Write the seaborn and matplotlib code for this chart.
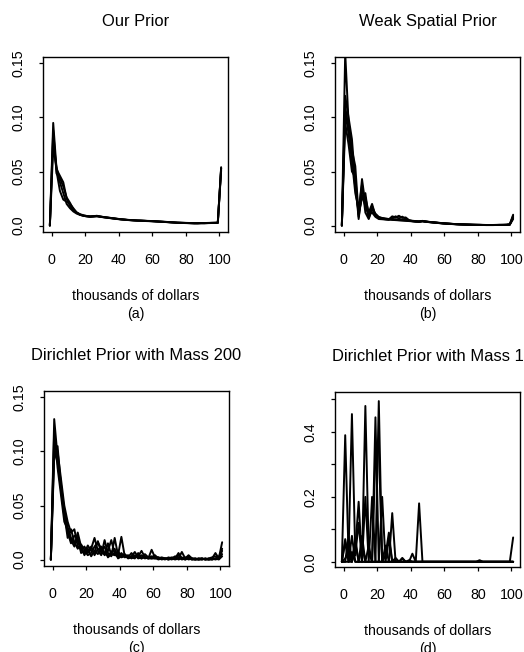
import matplotlib
matplotlib.use("Agg")
import matplotlib.pyplot as plt
import pandas as pd
import seaborn as sns

# bin midpoints, thousands of dollars (with end points at -1 and 101)
BINS: list[int] = list(range(-1, 102, 2))

# (a) Our Prior
A1 = [0, .095, .052, .046, .040, .025, .018, .014, .012, .010,
      .009, .0085, .0082, .0085, .0088, .0082, .0078, .0074, .0070, .0066,
      .0062, .0058, .0055, .0052, .0050, .0048, .0046, .0045, .0044, .0042,
      .0041, .0040, .0038, .0036, .0034, .0032, .0030, .0028, .0026, .0025,
      .0024, .0023, .0022, .0021, .0021, .0022, .0022, .0023, .0024, .0024,
      .0025, .053]
A2 = [0, .082, .050, .032, .024, .022, .020, .016, .012, .010,
      .0092, .0088, .0085, .0087, .0090, .0084, .0079, .0075, .0071, .0067,
      .0063, .0059, .0056, .0053, .0051, .0049, .0047, .0046, .0045, .0043,
      .0042, .0041, .0039, .0037, .0035, .0033, .0031, .0029, .0027, .0026,
      .0025, .0024, .0023, .0022, .0022, .0023, .0023, .0024, .0025, .0026,
      .0027, .053]
A3 = [0, .072, .054, .040, .030, .020, .016, .013, .011, .0098,
      .0090, .0084, .0080, .0082, .0084, .0080, .0076, .0072, .0068, .0064,
      .0060, .0057, .0054, .0051, .0049, .0047, .0045, .0044, .0042, .0041,
      .0040, .0038, .0036, .0034, .0033, .0031, .0029, .0027, .0025, .0024,
      .0023, .0022, .0021, .0020, .0020, .0021, .0021, .0022, .0023, .0023,
      .0024, .051]
A4 = [0, .088, .048, .044, .036, .026, .021, .015, .012, .0105,
      .0095, .0088, .0084, .0086, .0089, .0083, .0077, .0073, .0069, .0065,
      .0061, .0058, .0055, .0052, .0050, .0048, .0046, .0045, .0043, .0042,
      .0041, .0039, .0037, .0035, .0033, .0032, .0030, .0028, .0026, .0025,
      .0024, .0023, .0022, .0021, .0021, .0022, .0022, .0023, .0024, .0025,
      .0026, .054]

# (b) Weak Spatial Prior
B1 = [0, .160, .095, .070, .055, .010, .043, .020, .008, .018,
      .010, .007, .0065, .006, .0058, .0085, .0075, .009, .007, .0075,
      .005, .0042, .0038, .0036, .0042, .0038, .0033, .0030, .0027, .0024,
      .0021, .0019, .0017, .0015, .0013, .0011, .0010, .0009, .0008, .0007,
      .0006, .0006, .0005, .0005, .0005, .0005, .0005, .0006, .0006, .0007,
      .0010, .009]
B2 = [0, .120, .100, .080, .040, .006, .032, .026, .012, .020,
      .009, .0075, .007, .0062, .006, .0055, .0052, .005, .0048, .0045,
      .0043, .0040, .0038, .0037, .0040, .0036, .0032, .0029, .0026, .0023,
      .0020, .0018, .0016, .0014, .0012, .0011, .0010, .0009, .0008, .0007,
      .0006, .0006, .0005, .0005, .0005, .0005, .0005, .0005, .0006, .0006,
      .0009, .007]
B3 = [0, .105, .085, .060, .030, .015, .038, .012, .006, .015,
      .011, .008, .0068, .0065, .006, .006, .0058, .0056, .0054, .0050,
      .0047, .0044, .0041, .0039, .0043, .0037, .0034, .0031, .0028, .0025,
      .0022, .0019, .0017, .0015, .0013, .0012, .0010, .0009, .0008, .0007,
      .0007, .0006, .0006, .0005, .0005, .0005, .0006, .0006, .0006, .0007,
      .0011, .010]
B4 = [0, .095, .075, .050, .045, .008, .028, .018, .010, .012,
      .008, .006, .0058, .0055, .0052, .0068, .0085, .0065, .0082, .006,
      .0045, .0040, .0036, .0034, .0038, .0034, .0031, .0028, .0025, .0022,
      .0019, .0017, .0015, .0013, .0012, .0010, .0009, .0008, .0007, .0006,
      .0006, .0005, .0005, .0004, .0004, .0004, .0005, .0005, .0005, .0006,
      .0008, .006]
B5 = [0, .110, .090, .065, .035, .012, .025, .030, .007, .016,
      .009, .0072, .0062, .0058, .0055, .0052, .005, .0048, .0046, .0044,
      .0041, .0039, .0037, .0035, .0041, .0035, .0032, .0029, .0026, .0023,
      .0021, .0018, .0016, .0014, .0012, .0011, .0010, .0009, .0008, .0007,
      .0006, .0006, .0005, .0005, .0005, .0005, .0005, .0006, .0006, .0006,
      .0009, .008]

# (c) Dirichlet Prior with Mass 200
C1 = [0, .130, .095, .070, .045, .030, .020, .015, .018, .008,
      .012, .006, .010, .020, .008, .004, .018, .006, .003, .020,
      .004, .021, .003, .002, .006, .002, .003, .008, .002, .001,
      .009, .002, .002, .001, .001, .001, .000, .002, .001, .007,
      .001, .004, .001, .000, .001, .000, .001, .000, .001, .006,
      .001, .016]
C2 = [0, .110, .100, .075, .050, .035, .025, .028, .012, .010,
      .006, .013, .008, .007, .017, .006, .005, .015, .004, .006,
      .003, .004, .005, .002, .003, .007, .002, .004, .001, .002,
      .003, .001, .001, .002, .001, .000, .001, .001, .006, .001,
      .002, .000, .001, .001, .000, .001, .000, .001, .000, .001,
      .002, .010]
C3 = [0, .100, .090, .065, .040, .025, .015, .022, .020, .006,
      .008, .004, .006, .012, .016, .010, .004, .008, .018, .005,
      .002, .006, .002, .003, .002, .004, .001, .002, .003, .001,
      .002, .004, .001, .001, .000, .002, .001, .000, .001, .002,
      .000, .003, .001, .000, .000, .001, .000, .000, .001, .000,
      .001, .005]
C4 = [0, .120, .085, .060, .035, .028, .018, .012, .025, .012,
      .004, .010, .003, .008, .005, .012, .006, .003, .007, .010,
      .001, .003, .004, .001, .002, .001, .006, .001, .002, .001,
      .001, .002, .000, .001, .001, .000, .001, .003, .000, .001,
      .000, .001, .000, .001, .000, .000, .001, .000, .000, .001,
      .000, .003]
C5 = [0, .095, .105, .068, .042, .020, .028, .016, .010, .014,
      .009, .007, .012, .004, .010, .008, .012, .002, .005, .004,
      .008, .002, .003, .004, .001, .003, .002, .001, .005, .002,
      .001, .001, .002, .000, .001, .001, .002, .001, .004, .000,
      .001, .002, .000, .000, .001, .001, .000, .001, .002, .003,
      .001, .008]

# (d) Dirichlet Prior with Mass 1
D1 = [0, .39, .02, 0, .06, 0, 0, .48, .03, 0,
      0, 0, 0, 0, 0, 0, 0, 0, 0, 0,
      0, 0, 0, 0, 0, 0, 0, 0, 0, 0,
      0, 0, 0, 0, 0, 0, 0, 0, 0, 0,
      0, 0, 0, 0, 0, 0, 0, 0, 0, 0,
      0, 0]
D2 = [0, .01, .03, .455, .02, .12, 0, 0, 0, 0,
      .445, 0, 0, 0, 0, 0, 0, 0, 0, 0,
      0, 0, 0, 0, 0, 0, 0, 0, 0, 0,
      0, 0, 0, 0, 0, 0, 0, 0, 0, 0,
      0, 0, 0, 0, 0, 0, 0, 0, 0, 0,
      0, 0]
D3 = [0, 0, .08, 0, .04, .185, 0, 0, 0, 0,
      0, .495, 0, 0, 0, .15, 0, 0, .012, 0,
      0, .025, 0, 0, 0, 0, 0, 0, 0, 0,
      0, 0, 0, 0, 0, 0, 0, 0, 0, 0,
      0, 0, 0, 0, 0, 0, 0, 0, 0, 0,
      0, 0]
D4 = [0, .07, 0, .03, 0, 0, 0, .20, 0, .20,
      0, 0, .20, 0, .07, 0, 0, 0, 0, 0,
      0, 0, 0, .18, 0, 0, 0, 0, 0, 0,
      0, 0, 0, 0, 0, 0, 0, 0, 0, 0,
      0, 0, 0, 0, 0, 0, 0, 0, 0, 0,
      0, .075]
D5 = [0, 0, 0, 0, .07, 0, .05, 0, 0, 0,
      .33, .36, 0, .02, .09, 0, .01, 0, 0, 0,
      0, 0, 0, 0, 0, 0, 0, 0, 0, 0,
      0, 0, 0, 0, 0, 0, 0, 0, 0, 0,
      0, .005, 0, 0, 0, 0, 0, 0, 0, 0,
      0, 0]
D6 = [0, .06, 0, .08, 0, 0, .08, 0, .05, 0,
      0, 0, 0, .05, 0, 0, .012, 0, .01, 0,
      .005, 0, 0, 0, 0, 0, 0, 0, 0, 0,
      0, 0, 0, 0, 0, 0, 0, 0, 0, 0,
      0, 0, 0, 0, 0, 0, 0, 0, 0, 0,
      0, 0]

TITLES = ["Our Prior", "Weak Spatial Prior",
          "Dirichlet Prior with Mass 200", "Dirichlet Prior with Mass 1"]
PANEL_TAGS = ["(a)", "(b)", "(c)", "(d)"]
X_TICKS = [0, 20, 40, 60, 80, 100]


def to_frame(draws: list[list[float]]) -> pd.DataFrame:
    rows = []
    for i, d in enumerate(draws):
        for x, y in zip(BINS, d):
            rows.append({"x": x, "y": y, "draw": i})
    return pd.DataFrame(rows)


sns.set_style("ticks")
plt.rcParams["font.family"] = ["Liberation Sans", "DejaVu Sans"]
plt.rcParams["text.color"] = "black"
plt.rcParams["axes.labelcolor"] = "black"

fig = plt.figure(figsize=(5.24, 6.52), dpi=100)
W, H = 524, 652
boxes = [(43, 57), (335, 57), (44, 391), (335, 392)]  # left, top in px
panels = [[A1, A2, A3, A4], [B1, B2, B3, B4, B5],
          [C1, C2, C3, C4, C5], [D1, D2, D3, D4, D5, D6]]

for k, (draws, (left, top)) in enumerate(zip(panels, boxes)):
    ax = fig.add_axes([left / W, 1 - (top + 175) / H, 185 / W, 175 / H])
    sns.lineplot(data=to_frame(draws), x="x", y="y", units="draw",
                 estimator=None, color="black", lw=1.4, ax=ax, legend=False)
    ax.set_xlim(-5.08, 105.08)
    ax.set_xticks(X_TICKS)
    if k < 3:
        ax.set_ylim(-0.006, 0.156)
        ax.set_yticks([0, 0.05, 0.10, 0.15])
        ax.set_yticklabels(["0.0", "0.05", "0.10", "0.15"])
    else:
        ax.set_ylim(-0.016, 0.523)
        ax.set_yticks([0, 0.1, 0.2, 0.3, 0.4, 0.5])
        ax.set_yticklabels(["0.0", "", "0.2", "", "0.4", ""])
    for s in ax.spines.values():
        s.set_linewidth(1.0)
        s.set_color("black")
    ax.tick_params(axis="both", direction="out", length=3, width=0.9,
                   colors="black", labelsize=10.3)
    ax.tick_params(axis="x", pad=12)
    ax.tick_params(axis="y", pad=9.5, labelrotation=90)
    for lab in ax.get_yticklabels():
        lab.set_va("center")
    ax.set_title(TITLES[k], fontsize=11.9, pad=22, color="black")
    ax.set_xlabel("thousands of dollars\n" + PANEL_TAGS[k], fontsize=10.2,
                  labelpad=16, linespacing=1.35)
    ax.set_ylabel("")

fig.savefig("out.png", dpi=100)
